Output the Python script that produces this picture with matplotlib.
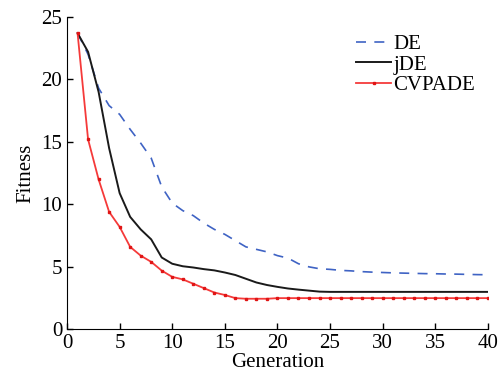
import numpy as np
import matplotlib
matplotlib.use("Agg")
import matplotlib.pyplot as plt

plt.rcParams["font.family"] = ["Liberation Serif", "DejaVu Serif"]

generation = np.arange(1, 41)

de = [23.7, 22.0, 19.3, 17.9, 17.2, 16.0, 14.9, 13.7, 11.4, 10.1,
      9.5, 9.1, 8.5, 8.0, 7.6, 7.1, 6.6, 6.4, 6.2, 5.9,
      5.7, 5.25, 5.0, 4.85, 4.8, 4.72, 4.68, 4.62, 4.58, 4.55,
      4.52, 4.5, 4.48, 4.46, 4.45, 4.43, 4.42, 4.4, 4.38, 4.37]

jde = [23.7, 22.2, 19.0, 14.5, 10.9, 9.0, 8.0, 7.2, 5.75, 5.25,
       5.05, 4.95, 4.82, 4.72, 4.55, 4.35, 4.05, 3.75, 3.55, 3.4,
       3.27, 3.18, 3.1, 3.02, 3.0, 3.0, 3.0, 3.0, 3.0, 3.0,
       3.0, 3.0, 3.0, 3.0, 3.0, 3.0, 3.0, 3.0, 3.0, 3.0]

cvpade = [23.7, 15.2, 12.0, 9.4, 8.2, 6.6, 5.9, 5.4, 4.7, 4.2,
          4.0, 3.65, 3.3, 2.95, 2.75, 2.5, 2.45, 2.45, 2.45, 2.5,
          2.5, 2.5, 2.5, 2.5, 2.5, 2.5, 2.5, 2.5, 2.5, 2.5,
          2.5, 2.5, 2.5, 2.5, 2.5, 2.5, 2.5, 2.5, 2.5, 2.5]

fig = plt.figure(figsize=(5.04, 3.83), dpi=100)
ax = fig.add_axes([0.133, 0.140, 0.835, 0.816])

ax.plot(generation, de, color="#3f63c4", linestyle=(0, (6, 5)), linewidth=1.2, label="DE")
ax.plot(generation, jde, color="#1a1a1a", linewidth=1.4, label="jDE")
ax.plot(generation, cvpade, color="#f53a3a", linewidth=1.3, marker="s", markersize=2,
        markerfacecolor="#e01515", markeredgecolor="#e01515", label="CVPADE")

ax.set_xlim(0, 40)
ax.set_ylim(0, 25)
ax.set_xticks(range(0, 41, 5))
ax.set_yticks(range(0, 26, 5))
ax.spines["top"].set_visible(False)
ax.spines["right"].set_visible(False)
ax.tick_params(direction="in", length=4, width=1, labelsize=15)
ax.set_xlabel("Generation", fontsize=15, labelpad=0)
ax.set_ylabel("Fitness", fontsize=15, labelpad=4)

ax.legend(loc="upper right", bbox_to_anchor=(0.99, 0.97), frameon=False, fontsize=15,
          handlelength=1.7, handletextpad=0.1, labelspacing=0.05, numpoints=1,
          borderaxespad=0)

fig.savefig("out.png", dpi=100)
